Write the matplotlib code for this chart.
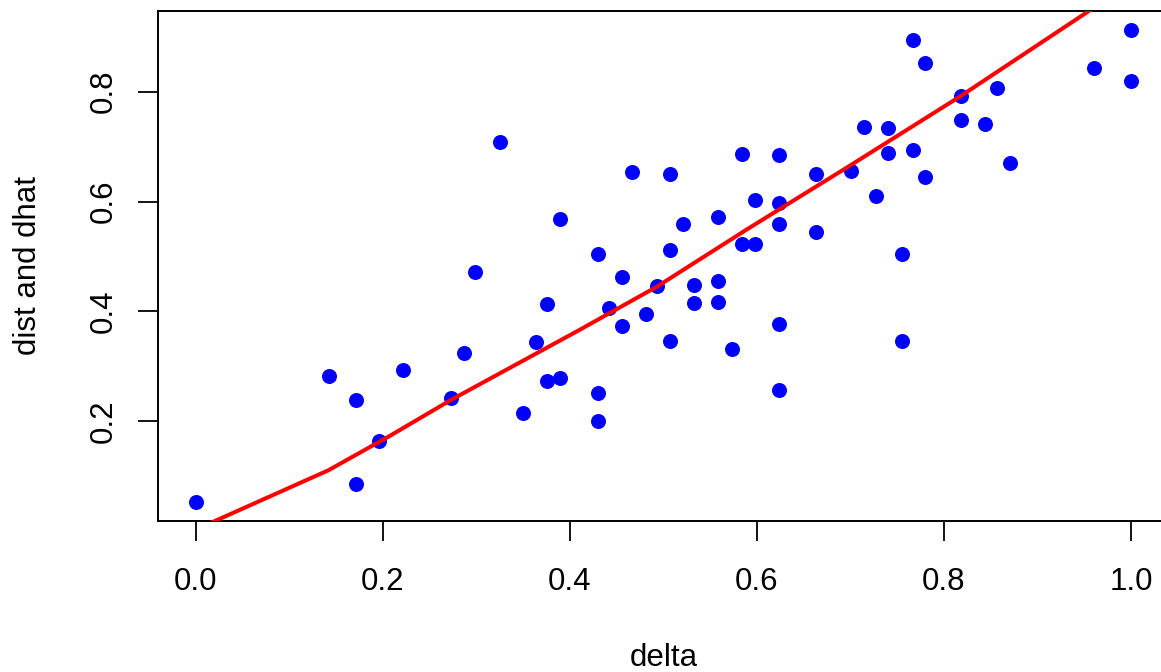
import matplotlib
matplotlib.use("Agg")
import matplotlib.pyplot as plt
import numpy as np

plt.rcParams['font.family'] = ['Liberation Sans', 'DejaVu Sans']

# observed points
delta = [0.000, 0.1426, 0.171, 0.171, 0.196, 0.222, 0.273, 0.287, 0.299, 0.325,
         0.350, 0.364, 0.376, 0.376, 0.390, 0.390, 0.430, 0.430, 0.430, 0.442,
         0.456, 0.456, 0.467, 0.481, 0.493, 0.507, 0.507, 0.507, 0.521, 0.533,
         0.533, 0.558, 0.558, 0.558, 0.573, 0.584, 0.584, 0.598, 0.598, 0.624,
         0.624, 0.624, 0.624, 0.624, 0.663, 0.663, 0.701, 0.715, 0.727, 0.740,
         0.740, 0.755, 0.755, 0.767, 0.767, 0.780, 0.780, 0.818, 0.818, 0.844,
         0.857, 0.871, 0.960, 1.000, 1.000]
dist = [0.053, 0.283, 0.238, 0.086, 0.165, 0.293, 0.243, 0.325, 0.472, 0.709,
        0.215, 0.345, 0.413, 0.273, 0.569, 0.279, 0.504, 0.252, 0.201, 0.407,
        0.463, 0.373, 0.653, 0.395, 0.447, 0.650, 0.511, 0.347, 0.559, 0.449,
        0.415, 0.572, 0.455, 0.418, 0.332, 0.686, 0.523, 0.602, 0.523, 0.685,
        0.598, 0.560, 0.378, 0.257, 0.651, 0.544, 0.655, 0.735, 0.610, 0.733,
        0.688, 0.505, 0.347, 0.894, 0.693, 0.853, 0.644, 0.793, 0.748, 0.741,
        0.807, 0.671, 0.844, 0.913, 0.819]

# fitted curve
fit_delta = [0.000, 0.142, 0.207, 0.273, 0.411, 0.493, 0.589, 0.701, 0.817, 0.956, 1.000]
dhat = [0.003, 0.111, 0.173, 0.239, 0.367, 0.445, 0.549, 0.667, 0.791, 0.948, 0.998]

xticks = [0.0, 0.2, 0.4, 0.6, 0.8, 1.0]
yticks = [0.2, 0.4, 0.6, 0.8]

fig = plt.figure(figsize=(11.61, 6.72), dpi=100)
W, H = 1161, 672
left, right, top, bottom = 158.3, 1168.4, 10.7, 521.0
ax = fig.add_axes([left / W, 1 - bottom / H, (right - left) / W, (bottom - top) / H])

ax.plot(delta, dist, linestyle='none', marker='o', markersize=10.8,
        color='#0000ff', markeredgewidth=0, zorder=2, clip_on=False)
ax.plot(fit_delta, dhat, color='#ff0000', linewidth=2.9, zorder=3)

ymin, ymax = min(dist), max(dist)
r = ymax - ymin
ax.set_xlim(-0.04, 1.04)
ax.set_ylim(ymin - 0.04 * r, ymax + 0.04 * r)

ax.set_xticks(xticks)
ax.set_xticklabels([f"{t:.1f}" for t in xticks])
ax.set_yticks(yticks)
ax.set_yticklabels([f"{t:.1f}" for t in yticks])

for s in ax.spines.values():
    s.set_linewidth(1.4)

ax.tick_params(axis='both', direction='out', length=14.4, width=1.3, labelsize=22.5, colors='black')
ax.tick_params(axis='x', pad=18.5)
ax.tick_params(axis='y', pad=14)
plt.setp(ax.get_yticklabels(), rotation=90, va='center', ha='right')

ax.set_xlabel('delta', fontsize=22.5)
ax.xaxis.label.set_va('center')
ax.xaxis.set_label_coords(0.5, (bottom - 658.5) / (bottom - top))
ax.set_ylabel('dist and dhat', fontsize=22.5)
ax.yaxis.label.set(ha='center', va='center', rotation_mode='default')
ax.yaxis.set_label_coords((28 - left) / (right - left), 0.5)

fig.savefig('out.png', dpi=100)
